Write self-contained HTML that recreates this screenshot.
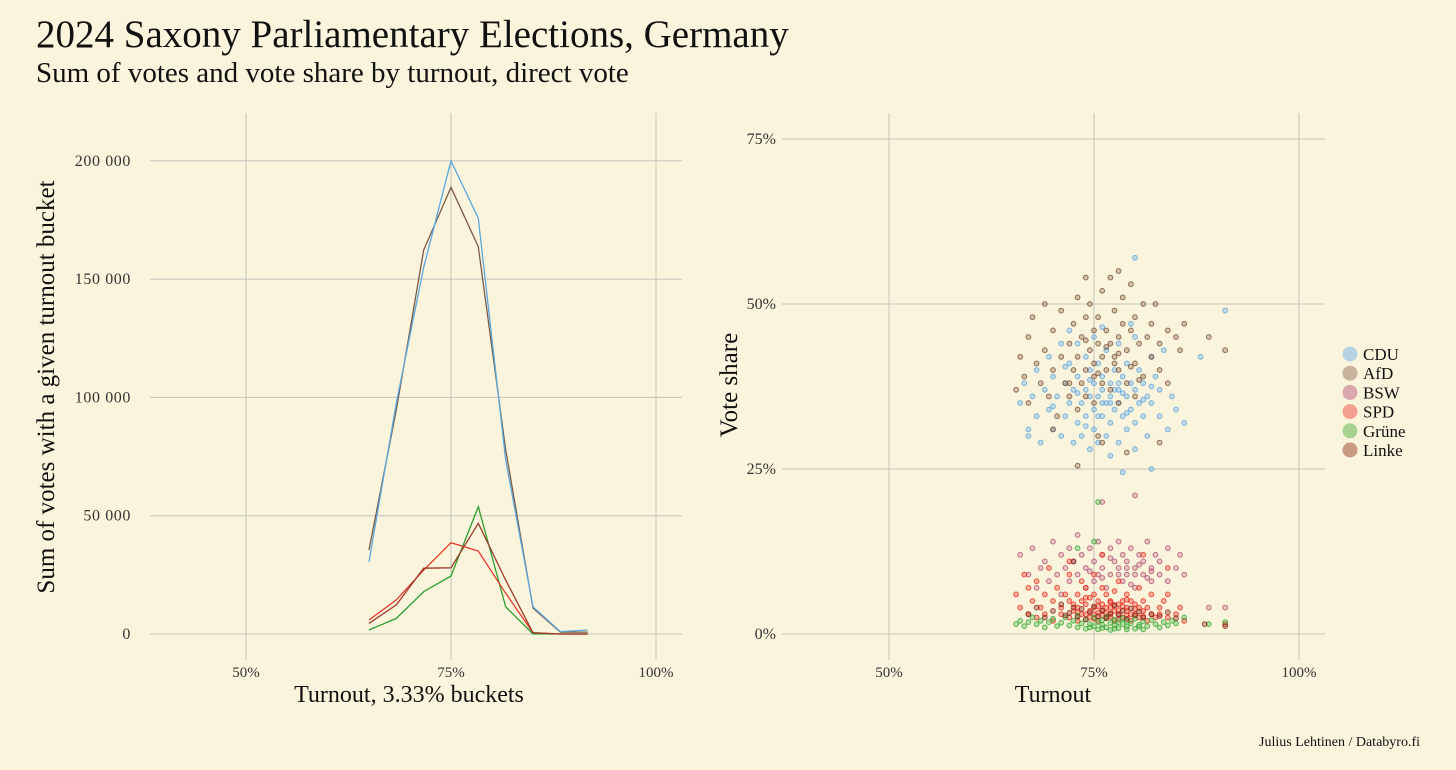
<!DOCTYPE html>
<html><head><meta charset="utf-8">
<style>
html,body{margin:0;padding:0;background:#fbf4dc;}
body{width:1456px;height:765px;overflow:hidden;font-family:"Liberation Serif",serif;}
svg text{font-family:"Liberation Serif",serif;}
</style></head>
<body>
<svg id="chart" width="1456" height="765" viewBox="0 0 1456 765">
<rect width="1456" height="765" fill="#fbf4dc"/>
<text x="36" y="47" font-size="39" fill="#111">2024 Saxony Parliamentary Elections, Germany</text>
<text x="36" y="82" font-size="29" fill="#111">Sum of votes and vote share by turnout, direct vote</text>
<text x="1420" y="746" font-size="14" text-anchor="end" fill="#111">Julius Lehtinen / Databyro.fi</text>
<g id="left"></g>
<g id="right"></g>
<g id="legend"></g>
</svg>
<script>
const NS="http://www.w3.org/2000/svg";
// ---- Left chart data ----
const bucketTurnout=[65,68.33,71.67,75,78.33,81.67,85,88.33,91.67];
const lineParties=["CDU","AfD","SPD","Linke","Grüne"];
const cduVotes=[30500,97600,155000,200000,175700,73500,11500,1000,1700];
const afdVotes=[35500,94700,162300,188800,163700,77800,11000,800,800];
const spdVotes=[5900,14400,27000,38600,35100,17200,500,0,0];
const linkeVotes=[4500,12300,27800,28000,46800,22800,500,0,0];
const grueneVotes=[1700,6600,17900,24500,53800,11500,0,0,0];
const leftYTicks=[0,50000,100000,150000,200000];
const leftYTickLabels=["0","50 000","100 000","150 000","200 000"];
const xTicks=[50,75,100];
const xTickLabels=["50%","75%","100%"];
// ---- Right chart data [turnout %, share %] ----
const cduPts=[[66,35],[66.5,38],[67,31],[67.5,36],[68,40],[68,33],[68.5,29],[69,37],[69.5,42],[69.5,34],[70,31],[70,39],[70.5,36],[71,30],[71,44],[71.5,33],[71.5,38],[72,35],[72,41],[72.5,29],[72.5,37],[73,32],[73,39],[73,44],[73.5,35],[73.5,30],[74,37],[74,42],[74,33],[74.5,28],[74.5,36],[74.5,40],[75,34],[75,38],[75,31],[75,45],[75.5,36],[75.5,29],[75.5,41],[76,33],[76,37],[76,39],[76.5,35],[76.5,30],[76.5,43],[77,36],[77,38],[77,32],[77,27],[77.5,40],[77.5,34],[78,37],[78,35],[78,44],[78,29],[78.5,39],[78.5,33],[79,36],[79,41],[79,31],[79.5,38],[79.5,34],[80,37],[80,45],[80,28],[80.5,35],[80.5,40],[81,33],[81,38],[81.5,36],[81.5,30],[82,42],[82,35],[82.5,39],[83,33],[83,37],[83.5,43],[84,31],[84.5,36],[85,34],[86,32],[88,42],[91,49],[80,57],[82,25],[78.5,24.5],[67,30],[72,46],[76,46.5],[79.5,47],[74,31.5],[77,35],[78,38],[75.5,33],[80,32],[73,36.5],[76,35],[78.5,36.5],[81,35.5],[74.5,38.5],[77.5,37],[79,33.5],[82,37.5],[70,34.5],[71.5,40.5]];
const afdPts=[[65.5,37],[66,42],[66.5,39],[67,45],[67,35],[67.5,48],[68,41],[68.5,38],[69,43],[69,50],[69.5,36],[70,46],[70,40],[70.5,33],[71,42],[71,49],[71.5,38],[72,44],[72,36],[72.5,47],[72.5,40],[73,42],[73,34],[73,51],[73.5,38],[73.5,45],[74,40],[74,48],[74,36],[74.5,43],[74.5,50],[75,39],[75,46],[75,41],[75,35],[75.5,44],[75.5,48],[75.5,30],[76,38],[76,42],[76,52],[76.5,40],[76.5,46],[77,44],[77,37],[77,54],[77.5,42],[77.5,49],[78,40],[78,45],[78,35],[78.5,47],[78.5,51],[79,43],[79,38],[79.5,46],[79.5,53],[80,41],[80,48],[80,36],[80.5,44],[81,50],[81,39],[81.5,45],[82,42],[82,47],[82.5,50],[83,44],[83,40],[84,46],[84,38],[85,45],[85.5,43],[86,47],[89,45],[91,43],[70,31],[76,29],[73,25.5],[79,27.5],[83,29],[74,54],[78,55],[72,38],[77.5,41],[75.5,39.5],[76.5,43.5],[78,42.5],[79.5,40.5],[74,44.5],[80.5,38.5]];
const bswPts=[[66,12],[67,9],[67.5,13],[68,7],[68.5,10],[69,11],[69.5,8],[70,14],[70.5,9],[71,12],[71,6],[71.5,10],[72,13],[72,8],[72.5,11],[73,9],[73,15],[73.5,12],[74,10],[74,7],[74.5,13],[75,11],[75,8],[75.5,14],[75.5,9],[76,12],[76,10],[76.5,7],[77,13],[77,9],[77.5,11],[78,10],[78,14],[78.5,8],[78.5,12],[79,9],[79,11],[79.5,13],[80,10],[80,7],[80.5,12],[81,9],[81,11],[81.5,14],[82,10],[82,8],[82.5,12],[83,9],[83,11],[84,13],[84,8],[85,10],[85.5,12],[86,9],[89,4],[91,4],[80,21],[76,20],[77,11.5],[79,10],[80,9],[81.5,8.5],[74.5,9.5],[76,8.5],[78,9],[79.5,7.5],[80.5,10.5],[82,9.5]];
const spdPts=[[65.5,6],[66,4],[66.5,9],[67,3],[67,7],[67.5,5],[68,2.5],[68,8],[68.5,4],[69,6],[69,3],[69.5,10],[70,5],[70,2],[70.5,7],[71,4],[71,3],[71.5,6],[72,2.5],[72,5],[72,9],[72.5,3.5],[73,4],[73,6],[73,2],[73.5,5],[73.5,8],[74,3],[74,4.5],[74,7],[74.5,2.5],[74.5,5.5],[75,3],[75,4],[75,6],[75,9],[75.5,2],[75.5,5],[76,3.5],[76,4.5],[76,7],[76.5,2.5],[76.5,6],[77,3],[77,4],[77,5],[77.5,2],[77.5,6.5],[78,3],[78,4.5],[78,8],[78.5,2.5],[78.5,5],[79,3.5],[79,4],[79,6],[79.5,2],[79.5,5],[80,3],[80,4.5],[80.5,7],[80.5,2.5],[81,3.5],[81,5],[81.5,2],[81.5,4],[82,3],[82,6],[82.5,2.5],[83,4],[83,3],[83.5,5],[84,2.5],[84,6],[85,3],[85.5,4],[86,2],[76,12],[81,12],[72,11],[84,10],[91,1.5],[74.5,3.5],[75.5,3.2],[76.5,4],[77.5,3.5],[78,2.2],[79,2.8],[80,3.8],[73.5,3],[75,2.3],[77,2.6],[74,5.5],[75.5,4.2],[76,2.8],[77,4.8],[78,3.6],[78.5,4.2],[79.5,3],[80.5,4],[81,2.7],[76.5,3.2],[77.5,4.4],[79,5.2],[73,3.3],[72.5,4.5]];
const gruenePts=[[65.5,1.5],[66,2],[66.5,1.2],[67,1.8],[67.5,2.5],[68,1.5],[68.5,2],[69,1],[69.5,1.8],[70,2.3],[70.5,1.2],[71,1.7],[71.5,2.5],[72,1.3],[72.5,2],[73,1],[73,2.8],[73.5,1.6],[74,2.2],[74,0.8],[74.5,1.5],[75,2.5],[75,1.2],[75.5,1.8],[75.5,0.7],[76,2.1],[76,1.4],[76.5,2.6],[76.5,1],[77,1.7],[77,0.6],[77.5,2.2],[77.5,1.3],[78,1.8],[78,0.9],[78.5,2.4],[78.5,1.5],[79,1.1],[79,2],[79.5,1.6],[80,0.8],[80,2.3],[80.5,1.4],[81,1.9],[81,0.7],[81.5,1.2],[82,2.1],[82.5,1.5],[83,1],[83.5,1.8],[84,1.3],[84.5,2],[85,1.6],[86,2.5],[89,1.5],[91,1.8],[75,14],[75.5,20],[73,13],[74.5,1],[76,0.9],[77.5,0.8],[79,0.7],[80.5,1.1]];
const linkePts=[[67,3],[68,4],[69,2.5],[70,3.5],[71,4.5],[71.5,2.8],[72,3.2],[72.5,4],[73,2.6],[73.5,3.8],[74,2.2],[74.5,3.3],[75,4.2],[75.5,2.7],[76,3.6],[76.5,2.4],[77,3.1],[77.5,4.3],[78,2.9],[78.5,3.5],[79,2.3],[79.5,3.9],[80,2.8],[80.5,3.4],[81,2.5],[82,3],[83,2.7],[84,3.3],[85,2.4],[88.5,1.5],[91,1.2],[72.5,11]];
const rightYTicks=[0,25,50,75];
const rightYTickLabels=["0%","25%","50%","75%"];

function mk(tag,attrs,parent){const e=document.createElementNS(NS,tag);for(const k in attrs)e.setAttribute(k,attrs[k]);parent.appendChild(e);return e;}

const lx=t=>246+(t-50)*205/25;
const ly=v=>634-v*118.3/50000;
const rx=t=>889+(t-50)*205/25;
const ry=s=>634-s*6.6;

const L=document.getElementById('left');
const R=document.getElementById('right');
const G=document.getElementById('legend');
const GRID='#c4c4bc';

xTicks.forEach((t,i)=>{
  const l=mk('line',{x1:lx(t),x2:lx(t),y1:113,y2:660,stroke:GRID,'stroke-width':1},L);
  
  
  const tx=mk('text',{x:lx(t),y:677,'font-size':15,'text-anchor':'middle',fill:'#333'},L);
  tx.textContent=xTickLabels[i];
  
  
});
leftYTicks.forEach((v,i)=>{
  const l=mk('line',{x1:150,x2:682,y1:ly(v),y2:ly(v),stroke:GRID,'stroke-width':1},L);
  
  
  const tx=mk('text',{x:131,y:ly(v)+5,'font-size':16,'text-anchor':'end',fill:'#333','letter-spacing':'0.6'},L);
  tx.textContent=leftYTickLabels[i];
  
  
});
let t1=mk('text',{x:409,y:702,'font-size':24,'text-anchor':'middle',fill:'#111'},L);
t1.textContent='Turnout, 3.33% buckets';


let t2=mk('text',{x:0,y:0,'font-size':25,'text-anchor':'middle',fill:'#111',transform:'translate(54,387) rotate(-90)'},L);
t2.textContent='Sum of votes with a given turnout bucket';



const lineSeries=[[grueneVotes,'#2e9e2e','line-gruene'],[spdVotes,'#e03a2a','line-spd'],[linkeVotes,'#9a3a2a','line-linke'],[afdVotes,'#7a5a45','line-afd'],[cduVotes,'#5aa8e0','line-cdu']];
lineSeries.forEach(([vals,col,name])=>{
  const d=vals.map((v,i)=>(i?'L':'M')+lx(bucketTurnout[i]).toFixed(1)+','+ly(v).toFixed(1)).join('');
  const p=mk('path',{d:d,fill:'none',stroke:col,'stroke-width':1.3},L);
  
  
});

xTicks.forEach((t,i)=>{
  const l=mk('line',{x1:rx(t),x2:rx(t),y1:113,y2:660,stroke:GRID,'stroke-width':1},R);
  
  
  const tx=mk('text',{x:rx(t),y:677,'font-size':15,'text-anchor':'middle',fill:'#333'},R);
  tx.textContent=xTickLabels[i];
  
  
});
rightYTicks.forEach((v,i)=>{
  const l=mk('line',{x1:782,x2:1325,y1:ry(v),y2:ry(v),stroke:GRID,'stroke-width':1},R);
  
  
  const tx=mk('text',{x:776,y:ry(v)+5,'font-size':16,'text-anchor':'end',fill:'#333'},R);
  tx.textContent=rightYTickLabels[i];
  
  
});
let t3=mk('text',{x:1053,y:702,'font-size':24,'text-anchor':'middle',fill:'#111'},R);
t3.textContent='Turnout';


let t4=mk('text',{x:0,y:0,'font-size':25,'text-anchor':'middle',fill:'#111',transform:'translate(737,385) rotate(-90)'},R);
t4.textContent='Vote share';



const ptSeries=[[cduPts,'#4a9ee0','rgba(120,180,230,0.4)','point-cdu'],[afdPts,'#6a4028','rgba(140,100,70,0.35)','point-afd'],[bswPts,'#a8406a','rgba(200,110,140,0.35)','point-bsw'],[spdPts,'#e81a10','rgba(240,80,60,0.4)','point-spd'],[gruenePts,'#22a022','rgba(90,190,90,0.4)','point-gruene'],[linkePts,'#7a1a10','rgba(150,60,40,0.4)','point-linke']];
ptSeries.forEach(([pts,st,fl,name])=>{
  pts.forEach(p=>{
    const c=mk('circle',{cx:rx(p[0]).toFixed(1),cy:ry(p[1]).toFixed(1),r:2.4,fill:fl,stroke:st,'stroke-opacity':0.7,'stroke-width':1},R);
    
    
  });
});

const legendLabels=["CDU","AfD","BSW","SPD","Grüne","Linke"];
const legendColors=["#b7d3e3","#c8b49a","#dca8b0","#f4a090","#a6d490","#c89a82"];
legendLabels.forEach((lab,i)=>{
  const y=354+i*19.2;
  const c=mk('circle',{cx:1350,cy:y,r:7.5,fill:legendColors[i]},G);
  
  
  const tx=mk('text',{x:1363,y:y+6,'font-size':17,fill:'#111'},G);
  tx.textContent=lab;
  
  
});
</script>
</body></html>
